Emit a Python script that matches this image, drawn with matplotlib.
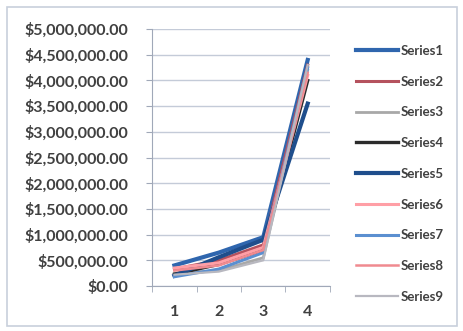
import matplotlib
matplotlib.use("Agg")
import matplotlib.pyplot as plt
from matplotlib.ticker import FuncFormatter, FixedLocator
from matplotlib.patches import Rectangle

plt.rcParams["font.family"] = ["Lato", "DejaVu Sans"]

# Dados
categories = [1, 2, 3, 4]
series_names = ["Series1", "Series2", "Series3", "Series4", "Series5",
                "Series6", "Series7", "Series8", "Series9"]
s1 = [400000, 650000, 950000, 4400000]
s2 = [330000, 500000, 800000, 4300000]
s3 = [250000, 300000, 550000, 4200000]
s4 = [230000, 420000, 700000, 4000000]
s5 = [200000, 560000, 900000, 3550000]
s6 = [350000, 450000, 750000, 4100000]
s7 = [180000, 330000, 650000, 4250000]
s8 = [300000, 400000, 700000, 4150000]
s9 = [220000, 280000, 500000, 4300000]
values = [s1, s2, s3, s4, s5, s6, s7, s8, s9]

colors = ["#2F66AE", "#B5525E", "#A8A8A8", "#2B2B2B", "#1F4E8C",
          "#FF9FA6", "#5B8FD0", "#F08A90", "#B8B8C0"]
widths = [3.0, 2.2, 2.0, 2.4, 3.0, 2.2, 2.2, 1.8, 1.6]

fig = plt.figure(figsize=(4.64, 3.31), dpi=100)
fig.patches.append(Rectangle((0.015, 0.015), 0.97, 0.965, transform=fig.transFigure,
                             fill=False, edgecolor="#C8D0DC", linewidth=1.2))
ax = fig.add_axes([0.328, 0.136, 0.383, 0.776])

for name, vals, c, w in zip(series_names, values, colors, widths):
    ax.plot(categories, vals, color=c, linewidth=w, label=name)

ax.set_xlim(0.5, 4.5)
ax.set_ylim(0, 5000000)
ax.set_yticks(range(0, 5000001, 500000))
ax.yaxis.set_major_formatter(FuncFormatter(lambda v, p: "${:,.2f}".format(v)))
ax.set_xticks(categories)
ax.xaxis.set_minor_locator(FixedLocator([0.5, 1.5, 2.5, 3.5, 4.5]))
ax.tick_params(axis="x", which="major", length=0, pad=14)
ax.tick_params(axis="x", which="minor", length=4, color="#A0A8B8")
ax.tick_params(axis="y", length=4, color="#A0A8B8", pad=13)
for lab in ax.get_xticklabels() + ax.get_yticklabels():
    lab.set_fontweight("bold")
    lab.set_fontsize(11.5)
    lab.set_color("#404040")

ax.grid(axis="y", color="#C4CBD8", linewidth=1)
ax.set_axisbelow(True)
for s in ["top", "right"]:
    ax.spines[s].set_visible(False)
ax.spines["left"].set_color("#A0A8B8")
ax.spines["bottom"].set_color("#A0A8B8")

leg = ax.legend(loc="upper left", bbox_to_anchor=(1.08, 0.985), frameon=False,
                handlelength=3.2, handletextpad=0.15, labelspacing=1.42,
                prop={"weight": "bold", "size": 9.5})
for t in leg.get_texts():
    t.set_color("#404040")

plt.savefig("out.png", dpi=100)
